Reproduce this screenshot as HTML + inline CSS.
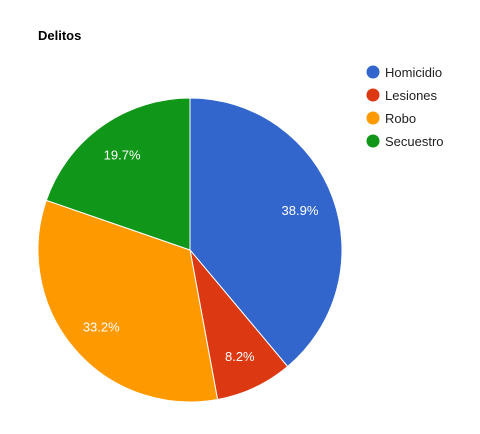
<!DOCTYPE html>
<html><head><meta charset="utf-8"><style>
body{margin:0;background:#fff;}
svg{display:block;font-family:"Liberation Sans",Arial,sans-serif;}
</style></head><body>
<svg id="chart" width="480" height="434">
<text x="38" y="40" font-size="13" font-weight="bold" fill="#000">Delitos</text>
<g id="slices"></g><g id="labels"></g><g id="legend"></g>
</svg>
<script>
const categories=["Homicidio","Lesiones","Robo","Secuestro"];
const values=[38.9,8.2,33.2,19.7];
const colors=["#3366cc","#dc3912","#ff9900","#109618"];
const cx=190,cy=250,r=152,ld=117;
const NS="http://www.w3.org/2000/svg";
const total=values.reduce((a,b)=>a+b,0);
let acc=0;
const sg=document.getElementById('slices'),lg=document.getElementById('labels'),leg=document.getElementById('legend');
function pt(a,d){return [cx+d*Math.sin(a),cy-d*Math.cos(a)];}
values.forEach((v,i)=>{
  const a0=acc/total*2*Math.PI;acc+=v;const a1=acc/total*2*Math.PI;
  const p0=pt(a0,r),p1=pt(a1,r);
  const p=document.createElementNS(NS,'path');
  p.setAttribute('d',`M${cx},${cy}L${p0[0]},${p0[1]}A${r},${r} 0 ${a1-a0>Math.PI?1:0} 1 ${p1[0]},${p1[1]}Z`);
  p.setAttribute('fill',colors[i]);p.setAttribute('stroke','#fff');p.setAttribute('stroke-width','1');
  
  
  sg.appendChild(p);
  const m=pt((a0+a1)/2,ld);
  const t=document.createElementNS(NS,'text');
  t.setAttribute('x',m[0]);t.setAttribute('y',m[1]+5);t.setAttribute('text-anchor','middle');
  t.setAttribute('font-size','13');t.setAttribute('fill','#fff');
  t.textContent=(v/total*100).toFixed(1)+'%';
  
  
  lg.appendChild(t);
  const g=document.createElementNS(NS,'g');
  
  
  const c=document.createElementNS(NS,'circle');
  c.setAttribute('cx',373);c.setAttribute('cy',72+i*23);c.setAttribute('r',6.5);c.setAttribute('fill',colors[i]);
  const lt=document.createElementNS(NS,'text');
  lt.setAttribute('x',385);lt.setAttribute('y',77+i*23);lt.setAttribute('font-size','13');lt.setAttribute('fill','#222');
  lt.textContent=categories[i];
  g.appendChild(c);g.appendChild(lt);leg.appendChild(g);
});
</script>
</body></html>
